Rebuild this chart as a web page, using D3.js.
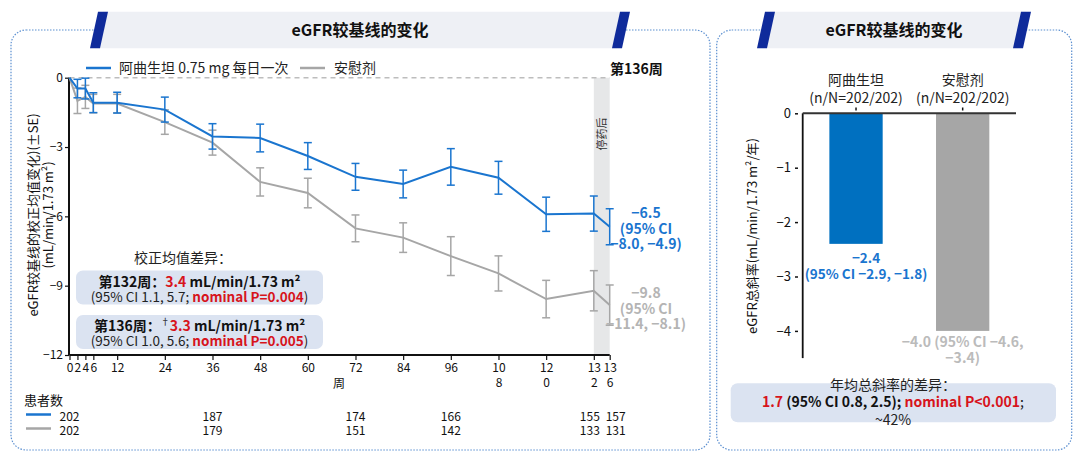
<!DOCTYPE html>
<html lang="zh">
<head>
<meta charset="utf-8">
<title>eGFR较基线的变化</title>
<script src="https://cdnjs.cloudflare.com/ajax/libs/d3/7.8.5/d3.min.js"></script>
<style>
  body { margin: 0; background: #fff; }
  text { font-family: "Noto Sans CJK SC", "Noto Sans", sans-serif; }
</style>
</head>
<body>
<script>
// ---- data ----
var weeks = [0, 2, 4, 6, 12, 24, 36, 48, 60, 72, 84, 96, 108, 120, 132, 136];
var atrMean = [0, -0.47, -0.47, -1.08, -1.08, -1.38, -2.54, -2.61, -3.39, -4.29, -4.60, -3.86, -4.33, -5.91, -5.88, -6.45];
var atrSE = [0, 0.4, 0.45, 0.43, 0.45, 0.54, 0.55, 0.60, 0.58, 0.58, 0.60, 0.79, 0.71, 0.74, 0.76, 0.78];
var pboMean = [0, -1.0, -0.83, -1.12, -1.12, -1.92, -2.81, -4.51, -4.99, -6.52, -6.92, -7.72, -8.47, -9.58, -9.22, -9.84];
var pboSE = [0, 0.55, 0.5, 0.4, 0.4, 0.53, 0.54, 0.61, 0.64, 0.58, 0.64, 0.84, 0.76, 0.81, 0.87, 0.87];
var yTicks = [0, -3, -6, -9, -12];

var nWeeks = [0, 36, 72, 96, 132, 136];
var atrN = [202, 187, 174, 166, 155, 157];
var pboN = [202, 179, 151, 142, 133, 131];

var barCats = ["阿曲生坦", "安慰剂"];
var barSub = ["(n/N=202/202)", "(n/N=202/202)"];
var slopes = [-2.4, -4.0];
var slopeTicks = [0, -1, -2, -3, -4];

var blue = "#1a75cf", grey = "#a6a6a6", red = "#d7141c";

var svg = d3.select("body").append("svg")
    .attr("width", 1080)
    .attr("height", 459);

// ---- panel borders and title banners ----
function panel(x1, x2, y1, y2) {
  svg.append("rect")
    .attr("x", x1).attr("y", y1)
    .attr("width", x2 - x1).attr("height", y2 - y1)
    .attr("rx", 15).attr("ry", 15)
    .attr("fill", "none")
    .attr("stroke", "#5b8fd0")
    .attr("stroke-width", 1.2)
    .attr("stroke-dasharray", "1.5,1.5");
}
function banner(xl, xr, label) {
  var t = 11.7, b = 48.3;
  svg.append("polygon")
    .attr("points", [[xl + 5, t], [xr + 5, t], [xr - 3, b], [xl - 3, b]].join(" "))
    .attr("fill", "#eef0f5");
  [xl, xr].forEach(function (x) {
    svg.append("polygon")
      .attr("points", [[x, t], [x + 10, t], [x + 2, b], [x - 8, b]].join(" "))
      .attr("fill", "#0f2b9b");
  });
  svg.append("text")
    .attr("x", (xl + xr) / 2 + 1).attr("y", 36)
    .attr("text-anchor", "middle")
    .attr("font-size", 16).attr("font-weight", "bold")
    .attr("fill", "#111")
    .text(label);
}
panel(11, 710, 30, 450);
panel(716.7, 1071.7, 30, 450);
banner(98, 620, "eGFR较基线的变化");
banner(765, 1021, "eGFR较基线的变化");

// ---- left chart ----
var x = d3.scaleLinear().domain([0, 136]).range([69.5, 609.7]);
var y = d3.scaleLinear().domain([0, -12]).range([77.7, 355]);

// post-treatment band
svg.append("rect")
  .attr("x", x(132)).attr("y", y(0))
  .attr("width", x(136) - x(132)).attr("height", y(-12) - y(0))
  .attr("fill", "#e6e7e8");
svg.append("text")
  .attr("transform", "translate(" + (x(134) + 4) + ",134) rotate(-90)")
  .attr("text-anchor", "middle")
  .attr("font-size", 11).attr("fill", "#333")
  .text("停药后");

// zero reference line
svg.append("line")
  .attr("x1", x(0)).attr("x2", x(136))
  .attr("y1", y(0)).attr("y2", y(0))
  .attr("stroke", "#bdbdbd").attr("stroke-width", 1.5)
  .attr("stroke-dasharray", "5,4");

// axes
var yAxis = svg.append("g")
  .attr("transform", "translate(69,0)")
  .call(d3.axisLeft(y).tickValues(yTicks).tickSize(4).tickPadding(2));
var xAxis = svg.append("g")
  .attr("transform", "translate(0,355)")
  .call(d3.axisBottom(x).tickValues(weeks).tickSize(5).tickPadding(3));
[yAxis, xAxis].forEach(function (g) {
  g.select(".domain").attr("stroke", "#111").attr("stroke-width", 2);
  g.selectAll(".tick line").attr("stroke", "#111").attr("stroke-width", 1.2);
  g.selectAll("text").attr("font-size", 12).attr("fill", "#111")
    .attr("font-family", "'Liberation Sans Narrow', 'Noto Sans CJK SC', sans-serif");
});
xAxis.select(".domain").attr("d", "M" + x(0) + ",0H" + x(136));
yAxis.select(".domain").attr("d", "M0," + y(0) + "V" + y(-12));
// long week labels wrap onto two lines
xAxis.selectAll(".tick text").each(function (d) {
  var s = String(d);
  if (s.length > 2) {
    var t = d3.select(this).text(null);
    t.append("tspan").attr("x", 0).text(s.slice(0, 2));
    t.append("tspan").attr("x", 0).attr("dy", "1.25em").text(s.slice(2));
  }
});
svg.append("text")
  .attr("x", 339).attr("y", 388)
  .attr("text-anchor", "middle").attr("font-size", 12).attr("fill", "#111")
  .text("周");

// y axis title
var yt = svg.append("text")
  .attr("transform", "translate(38,215) rotate(-90)")
  .attr("text-anchor", "middle").attr("font-size", 13).attr("fill", "#111");
yt.append("tspan").attr("x", 0).attr("dy", 0).text("eGFR较基线的校正均值变化)(±SE)");
yt.append("tspan").attr("x", 0).attr("dy", 15).text("(mL/min/1.73 m²)");

// series
function series(mean, se, color) {
  var pts = weeks.map(function (w, i) { return { w: w, m: mean[i], s: se[i] }; });
  var g = svg.append("g");
  g.append("path")
    .datum(pts)
    .attr("fill", "none").attr("stroke", color).attr("stroke-width", 2)
    .attr("d", d3.line().x(function (d) { return x(d.w); }).y(function (d) { return y(d.m); }));
  var eb = g.selectAll(".eb").data(pts.filter(function (d) { return d.s > 0; }))
    .enter().append("g").attr("stroke", color).attr("stroke-width", 1.5);
  eb.append("line")
    .attr("x1", function (d) { return x(d.w); }).attr("x2", function (d) { return x(d.w); })
    .attr("y1", function (d) { return y(d.m + d.s); }).attr("y2", function (d) { return y(d.m - d.s); });
  eb.append("line")
    .attr("x1", function (d) { return x(d.w) - 4; }).attr("x2", function (d) { return x(d.w) + 4; })
    .attr("y1", function (d) { return y(d.m + d.s); }).attr("y2", function (d) { return y(d.m + d.s); });
  eb.append("line")
    .attr("x1", function (d) { return x(d.w) - 4; }).attr("x2", function (d) { return x(d.w) + 4; })
    .attr("y1", function (d) { return y(d.m - d.s); }).attr("y2", function (d) { return y(d.m - d.s); });
}
series(pboMean, pboSE, grey);
series(atrMean, atrSE, blue);

// legend
svg.append("line").attr("x1", 86).attr("x2", 111).attr("y1", 68).attr("y2", 68)
  .attr("stroke", blue).attr("stroke-width", 2.5);
svg.append("text").attr("x", 119).attr("y", 73).attr("font-size", 14).attr("fill", "#222")
  .text("阿曲生坦 0.75 mg 每日一次");
svg.append("line").attr("x1", 300).attr("x2", 325).attr("y1", 68).attr("y2", 68)
  .attr("stroke", grey).attr("stroke-width", 2.5);
svg.append("text").attr("x", 334).attr("y", 73).attr("font-size", 14).attr("fill", "#222")
  .text("安慰剂");
svg.append("text").attr("x", 610).attr("y", 74).attr("font-size", 14).attr("font-weight", "bold")
  .attr("fill", "#111").text("第136周");

// week 136 annotations
function endNote(lines, color, y0) {
  var t = svg.append("text").attr("x", 646).attr("y", y0)
    .attr("text-anchor", "middle").attr("font-size", 14).attr("font-weight", "bold")
    .attr("fill", color);
  lines.forEach(function (s, i) {
    t.append("tspan").attr("x", 646).attr("dy", i ? 15.5 : 0).text(s);
  });
}
endNote(["−6.5", "(95% CI", "−8.0, −4.9)"], blue, 218);
endNote(["−9.8", "(95% CI", "−11.4, −8.1)"], "#b4b4b4", 298);

// adjusted mean difference boxes
svg.append("text").attr("x", 183).attr("y", 263).attr("text-anchor", "middle")
  .attr("font-size", 14).attr("fill", "#222").text("校正均值差异：");
function diffBox(y0, parts1, parts2) {
  svg.append("rect").attr("x", 76).attr("y", y0).attr("width", 247).attr("height", 34)
    .attr("rx", 7).attr("fill", "#dbe3f1");
  [parts1, parts2].forEach(function (parts, i) {
    var t = svg.append("text").attr("x", 199.5).attr("y", y0 + (i ? 31 : 16))
      .attr("text-anchor", "middle").attr("font-size", i ? 13.5 : 14).attr("fill", "#222");
    parts.forEach(function (p) {
      var s = t.append("tspan").text(p[0])
        .attr("font-weight", p[2] ? "bold" : null)
        .attr("fill", p[1]);
      if (p[3]) s.attr("font-size", 9).attr("baseline-shift", "super");
    });
  });
}
diffBox(270.5,
  [["第132周：", "#111", 1], ["3.4", red, 1], [" mL/min/1.73 m²", "#111", 1]],
  [["(95% CI 1.1, 5.7; ", "#222", 0], ["nominal P=0.004", red, 1], [")", "#222", 0]]);
diffBox(315,
  [["第136周：", "#111", 1], ["†", "#111", 0, 1], ["3.3", red, 1], [" mL/min/1.73 m²", "#111", 1]],
  [["(95% CI 1.0, 5.6; ", "#222", 0], ["nominal P=0.005", red, 1], [")", "#222", 0]]);

// number of patients
svg.append("text").attr("x", 24).attr("y", 405).attr("font-size", 13).attr("fill", "#111").text("患者数");
[[atrN, blue, 416.5], [pboN, grey, 430.5]].forEach(function (r) {
  svg.append("line").attr("x1", 26).attr("x2", 51).attr("y1", r[2] - 2).attr("y2", r[2] - 2)
    .attr("stroke", r[1]).attr("stroke-width", 2.5);
  svg.selectAll(null).data(r[0]).enter().append("text")
    .attr("x", function (d, i) {
      var w = nWeeks[i];
      return x(w) + (w === 132 ? -4 : w === 136 ? 6 : 0);
    })
    .attr("y", r[2] + 4)
    .attr("text-anchor", "middle").attr("font-size", 12).attr("fill", "#111")
    .attr("font-family", "'Liberation Sans Narrow', 'Noto Sans CJK SC', sans-serif")
    .text(function (d) { return d; });
});

// ---- right chart ----
var xb = d3.scalePoint().domain(barCats).range([802.7, 1016]).padding(0.5);
var yb = d3.scaleLinear().domain([0, -4.5]).range([113.3, 358.1]);
var barW = 53.3;

svg.selectAll(".bar").data(slopes).enter().append("rect")
  .attr("x", function (d, i) { return xb(barCats[i]) - barW / 2; })
  .attr("y", yb(0))
  .attr("width", barW)
  .attr("height", function (d) { return yb(d) - yb(0); })
  .attr("fill", function (d, i) { return i ? "#a6a6a6" : "#0070c0"; });

var ybAxis = svg.append("g").attr("transform", "translate(798,0)")
  .call(d3.axisLeft(yb).tickValues(slopeTicks).tickFormat(d3.format("d")).tickSize(3).tickPadding(4));
ybAxis.select(".domain").remove();
ybAxis.selectAll(".tick line").attr("stroke", "#111").attr("stroke-width", 1.5);
ybAxis.selectAll("text").attr("font-size", 13).attr("fill", "#111");
svg.append("line").attr("x1", 802.7).attr("x2", 802.7).attr("y1", yb(0)).attr("y2", yb(-4.5))
  .attr("stroke", "#111").attr("stroke-width", 1.8);
svg.append("line").attr("x1", 802.7).attr("x2", 1016).attr("y1", yb(0)).attr("y2", yb(0))
  .attr("stroke", "#333").attr("stroke-width", 2);
barCats.forEach(function (c, i) {
  svg.append("line").attr("x1", xb(c)).attr("x2", xb(c)).attr("y1", 107.5).attr("y2", 110.5)
    .attr("stroke", "#111").attr("stroke-width", 1.5);
  svg.append("text").attr("x", xb(c)).attr("y", 85).attr("text-anchor", "middle")
    .attr("font-size", 14).attr("fill", "#222").text(c);
  svg.append("text").attr("x", xb(c)).attr("y", 103).attr("text-anchor", "middle")
    .attr("font-size", 14).attr("fill", "#222").text(barSub[i]);
});
svg.append("text")
  .attr("transform", "translate(757,236) rotate(-90)")
  .attr("text-anchor", "middle").attr("font-size", 13).attr("fill", "#111")
  .text("eGFR总斜率(mL/min/1.73 m²/年)");

// bar value labels
var blx = xb(barCats[0]) + 10;
var bl = svg.append("text").attr("x", blx).attr("y", yb(slopes[0]) + 19)
  .attr("text-anchor", "middle").attr("font-size", 13.5).attr("font-weight", "bold").attr("fill", blue);
bl.append("tspan").attr("x", blx).text("−2.4");
bl.append("tspan").attr("x", blx).attr("dy", 16).text("(95% CI −2.9, −1.8)");
var gl = svg.append("text").attr("x", xb(barCats[1])).attr("y", yb(slopes[1]) + 16)
  .attr("text-anchor", "middle").attr("font-size", 14).attr("font-weight", "bold").attr("fill", "#bbbbbb");
gl.append("tspan").attr("x", xb(barCats[1])).text("−4.0 (95% CI −4.6,");
gl.append("tspan").attr("x", xb(barCats[1])).attr("dy", 16).text("−3.4)");

// slope difference box
svg.append("rect").attr("x", 730.7).attr("y", 383.3).attr("width", 325.3).attr("height", 39)
  .attr("rx", 7).attr("fill", "#dbe3f1");
svg.append("text").attr("x", 893).attr("y", 390).attr("text-anchor", "middle")
  .attr("font-size", 14).attr("fill", "#222").text("年均总斜率的差异：");
var sd = svg.append("text").attr("x", 893).attr("y", 407).attr("text-anchor", "middle")
  .attr("font-size", 14).attr("fill", "#111");
sd.append("tspan").attr("font-weight", "bold").attr("fill", red).text("1.7");
sd.append("tspan").attr("font-weight", "bold").text(" (95% CI 0.8, 2.5); ");
sd.append("tspan").attr("font-weight", "bold").attr("fill", red).text("nominal P<0.001");
sd.append("tspan").text(";");
svg.append("text").attr("x", 893).attr("y", 425).attr("text-anchor", "middle")
  .attr("font-size", 14).attr("fill", "#222").text("~42%");
</script>
</body>
</html>
